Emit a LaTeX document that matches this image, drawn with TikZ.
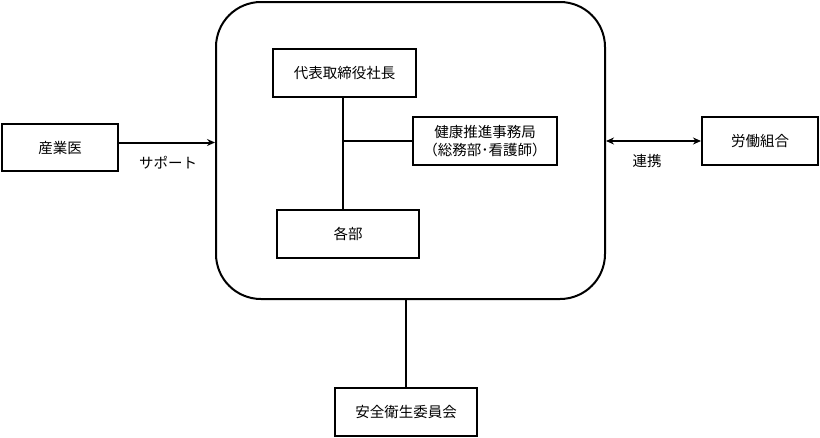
\documentclass[tikz,border=0pt]{standalone}
\usepackage{fontspec}
\setmainfont{Noto Sans CJK JP}
\usetikzlibrary{arrows.meta}
\begin{document}
\begin{tikzpicture}[x=1pt,y=-1pt,
  box/.style={draw,line width=2pt,rectangle,minimum width=#1,minimum height=48pt,inner sep=0pt,align=center,font=\fontsize{14.5}{17.5}\selectfont},
  box/.default=142pt,
  lbl/.style={font=\fontsize{14.5}{17.5}\selectfont,inner sep=0pt},
  conn/.style={line width=2pt},
  arr/.style={line width=2pt,-{Stealth[length=8pt,width=7pt]}},
  darr/.style={line width=2pt,{Stealth[length=8pt,width=7pt]}-{Stealth[length=8pt,width=7pt]}}]
\useasboundingbox (0,0) rectangle (820,437);
\node[draw,line width=2pt,rounded corners=45pt,minimum width=389pt,minimum height=297pt,inner sep=0pt] (big) at (410.5,150.5) {};
\node[box=143pt] (ceo) at (344.5,73) {代表取締役社長};
\node[box=144pt] (office) at (485,141) {健康推進事務局\\（総務部･看護師）};
\node[box=142pt] (dept) at (348,234) {各部};
\node[box=116pt,minimum height=47pt] (doctor) at (60,147.5) {産業医};
\node[box=116pt] (union) at (760,141) {労働組合};
\node[box=142pt] (committee) at (406,412) {安全衛生委員会};
\node[lbl] (support) at (168,163) {サポート};
\node[lbl] (renkei) at (647,161) {連携};
\draw[conn] (ceo.south -| 343,0) -- (dept.north -| 343,0);
\draw[conn] (office.west) -- (office.west -| 343,0);
\draw[arr] ([yshift=5pt]doctor.east) -- ([yshift=5pt]doctor.east -| big.west);
\draw[darr] (union.west -| big.east) -- (union.west);
\draw[conn] (big.south -| committee.north) -- (committee.north);
\end{tikzpicture}
\end{document}
